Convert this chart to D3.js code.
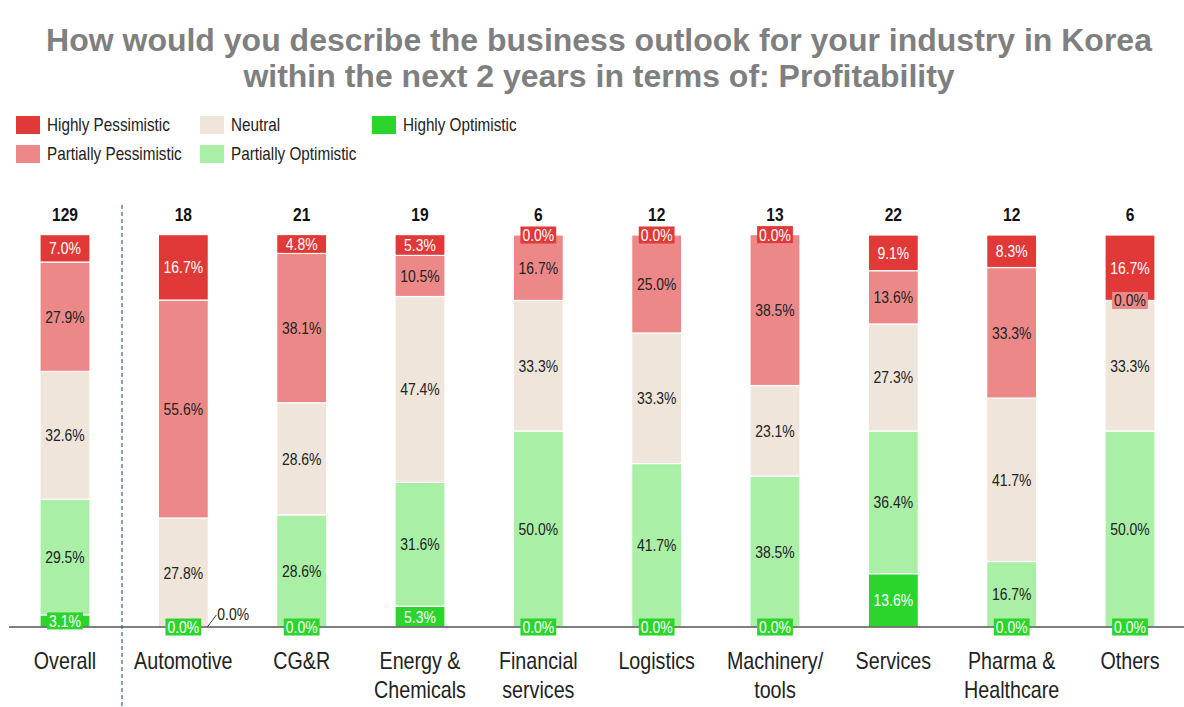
<!DOCTYPE html>
<html>
<head>
<meta charset="utf-8">
<script src="https://cdn.jsdelivr.net/npm/d3@7"></script>
<style>
  body { margin: 0; background: #fff; }
  svg { display: block; }
</style>
</head>
<body>
<script>
// chart data
const categories = ['Overall', 'Automotive', 'CG&R', 'Energy &\nChemicals', 'Financial\nservices',
  'Logistics', 'Machinery/\ntools', 'Services', 'Pharma &\nHealthcare', 'Others'];
const counts = [129, 18, 21, 19, 6, 12, 13, 22, 12, 6];

// series, bottom to top
const seriesNames = ['Highly Optimistic', 'Partially Optimistic', 'Neutral', 'Partially Pessimistic', 'Highly Pessimistic'];
const highlyOptimistic     = [3.1, 0.0, 0.0, 5.3, 0.0, 0.0, 0.0, 13.6, 0.0, 0.0];
const partiallyOptimistic  = [29.5, 0.0, 28.6, 31.6, 50.0, 41.7, 38.5, 36.4, 16.7, 50.0];
const neutral              = [32.6, 27.8, 28.6, 47.4, 33.3, 33.3, 23.1, 27.3, 41.7, 33.3];
const partiallyPessimistic = [27.9, 55.6, 38.1, 10.5, 16.7, 25.0, 38.5, 13.6, 33.3, 0.0];
const highlyPessimistic    = [7.0, 16.7, 4.8, 5.3, 0.0, 0.0, 0.0, 9.1, 8.3, 16.7];

const colors = {
  'Highly Pessimistic':    '#e13838',
  'Partially Pessimistic': '#ec8988',
  'Neutral':               '#efe5db',
  'Partially Optimistic':  '#a9efa6',
  'Highly Optimistic':     '#2bd52b'
};
const textColors = {
  'Highly Pessimistic':    '#fff',
  'Partially Pessimistic': '#222',
  'Neutral':               '#222',
  'Partially Optimistic':  '#222',
  'Highly Optimistic':     '#fff'
};

const legendCols = [
  ['Highly Pessimistic', 'Partially Pessimistic'],
  ['Neutral', 'Partially Optimistic'],
  ['Highly Optimistic']
];

const font = "'Liberation Sans', Arial, sans-serif";
const squeeze = 0.82; // no narrow font installed, squeeze glyphs instead

// condense a text element horizontally
function narrow(sel) {
  sel.each(function () {
    const len = this.getComputedTextLength();
    d3.select(this)
      .attr('textLength', len * squeeze)
      .attr('lengthAdjust', 'spacingAndGlyphs');
  });
  return sel;
}

// build stacked table
const table = categories.map((c, i) => ({
  cat: c,
  'Highly Optimistic': highlyOptimistic[i],
  'Partially Optimistic': partiallyOptimistic[i],
  'Neutral': neutral[i],
  'Partially Pessimistic': partiallyPessimistic[i],
  'Highly Pessimistic': highlyPessimistic[i]
}));
const stacked = d3.stack().keys(seriesNames)(table);

const width = 1184, height = 707;
const svg = d3.select('body').append('svg')
  .attr('width', width)
  .attr('height', height)
  .attr('font-family', font);

// title
svg.append('g')
  .selectAll('text')
  .data(['How would you describe the business outlook for your industry in Korea',
         'within the next 2 years in terms of: Profitability'])
  .join('text')
    .attr('x', 599)
    .attr('y', (d, i) => 51 + i * 36)
    .attr('text-anchor', 'middle')
    .attr('font-weight', 'bold')
    .attr('font-size', 32)
    .attr('fill', '#7f7f7f')
    .text((d) => d);

// legend
const legendX = [16, 200, 372];
legendCols.forEach((col, ci) => {
  col.forEach((name, ri) => {
    const g = svg.append('g')
      .attr('transform', `translate(${legendX[ci]},${116 + ri * 29})`);
    g.append('rect')
      .attr('width', 24).attr('height', 18)
      .attr('fill', colors[name]);
    g.append('text')
      .attr('x', 31).attr('y', 15)
      .attr('font-size', 18.6)
      .attr('fill', '#222')
      .text(name)
      .call(narrow);
  });
});

// scales
const x = d3.scalePoint().domain(categories).range([65, 1130]);
const y = d3.scaleLinear().domain([0, 100]).range([627, 235]);
const barW = 50;

// bars
const layers = svg.append('g');
stacked.forEach((layer) => {
  layers.append('g')
    .selectAll('rect')
    .data(layer)
    .join('rect')
      .attr('x', (d) => x(d.data.cat) - barW / 2)
      .attr('y', (d) => y(d[1]))
      .attr('width', barW)
      .attr('height', (d) => y(d[0]) - y(d[1]))
      .attr('fill', colors[layer.key])
      .attr('stroke', '#fff')
      .attr('stroke-width', 1.2);
});

// baseline
svg.append('line')
  .attr('x1', 9).attr('x2', width)
  .attr('y1', y(0)).attr('y2', y(0))
  .attr('stroke', '#555')
  .attr('stroke-width', 1.5);

// separator between overall and industries
svg.append('line')
  .attr('x1', 122).attr('x2', 122)
  .attr('y1', 205).attr('y2', height)
  .attr('stroke', '#2f6a87')
  .attr('stroke-width', 1.2)
  .attr('stroke-dasharray', '4,3');

// segment labels
const labels = svg.append('g')
  .attr('font-size', 17);

stacked.forEach((layer, li) => {
  layer.forEach((d, i) => {
    const v = d[1] - d[0];
    const cx = x(d.data.cat);
    const cy = (y(d[0]) + y(d[1])) / 2;
    const txt = d3.format('.1f')(v) + '%';

    // zero optimistic slot collides with the box below: put it outside
    if (v === 0 && li === 1 && stacked[0][i][1] === 0) {
      labels.append('line')
        .attr('x1', cx + 24).attr('y1', y(0))
        .attr('x2', cx + 33).attr('y2', y(0) - 12)
        .attr('stroke', '#444');
      labels.append('text')
        .attr('x', cx + 34).attr('y', y(0) - 7)
        .attr('fill', '#222')
        .text(txt)
        .call(narrow);
      return;
    }

    const t = labels.append('text')
      .attr('x', cx).attr('y', cy + 6)
      .attr('text-anchor', 'middle')
      .attr('fill', textColors[layer.key])
      .text(txt)
      .call(narrow);

    // small segments get a boxed label
    if (v < 6) {
      const w = t.node().getComputedTextLength();
      labels.insert('rect', () => t.node())
        .attr('x', cx - w / 2 - 2).attr('y', cy - 8.5)
        .attr('width', w + 4).attr('height', 17)
        .attr('fill', colors[layer.key]);
    }
  });
});

// respondent counts
svg.append('g')
  .selectAll('text')
  .data(counts)
  .join('text')
    .attr('x', (d, i) => x(categories[i]))
    .attr('y', 221)
    .attr('text-anchor', 'middle')
    .attr('font-weight', 'bold')
    .attr('font-size', 19)
    .attr('fill', '#111')
    .text((d) => d)
    .call(narrow);

// category labels, one text per line
const catLines = categories.flatMap((c) => c.split('\n').map((s, j) => ({ cat: c, s, j })));
svg.append('g')
  .selectAll('text')
  .data(catLines)
  .join('text')
    .attr('x', (d) => x(d.cat))
    .attr('y', (d) => 669 + d.j * 29)
    .attr('text-anchor', 'middle')
    .attr('font-size', 24)
    .attr('fill', '#222')
    .text((d) => d.s)
    .call(narrow);
</script>
</body>
</html>
